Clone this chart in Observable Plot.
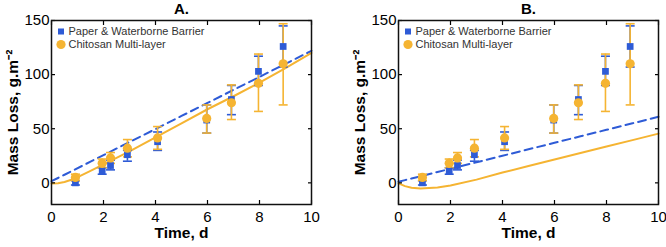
<!DOCTYPE html>
<html>
<head>
<meta charset="utf-8">
<script src="https://cdn.jsdelivr.net/npm/d3@7"></script>
<script src="https://cdn.jsdelivr.net/npm/@observablehq/plot@0.6"></script>
<style>
  html, body { margin: 0; padding: 0; background: #fff; }
  #chart { display: flex; width: 666px; height: 247px; overflow: hidden; }
  #chart svg { overflow: visible; flex: none; }
</style>
</head>
<body>
<div id="chart"></div>
<script>
// Measured mass loss over time for two coatings (means and error-bar limits)
const seriesNames = ["Paper & Waterborne Barrier", "Chitosan Multi-layer"];
const days = [0.92, 1.95, 2.27, 2.92, 4.08, 5.97, 6.92, 7.96, 8.91];

const paperMean = [0, 11, 16, 26, 38, 58, 77, 103, 126];
const paperLow  = [-2, 8, 12, 20, 30, 46, 63, 90, 107];
const paperHigh = [2, 14, 21, 30, 47, 72, 90, 117, 145];

const chitosanMean = [5, 18, 23, 32, 41.5, 59.5, 74, 92, 110];
const chitosanLow  = [2, 14, 18, 24, 31, 46, 58.5, 66, 72];
const chitosanHigh = [8, 22, 28, 40, 52, 72, 90.5, 119, 147];

// Model curves sampled on a common time grid
const fitDays = [0, 0.25, 0.5, 0.85, 1.5, 2, 3, 4, 5, 6, 7, 8, 9, 10];
const fitPaperA    = [1.5, 4.5, 7.5, 11.7, 19.6, 25.6, 37.7, 49.7, 61.8, 73.8, 85.9, 97.9, 110, 122];
const fitChitosanA = [-0.5, -0.3, 0.8, 3.5, 11, 17, 29, 42, 55, 68, 80, 92.5, 106, 120];
const fitPaperB    = [1, 2.5, 4, 6, 10, 13, 19, 25, 31, 37, 43, 49, 55, 61];
const fitChitosanB = [-0.5, -3, -4.5, -5.2, -4.3, -2.5, 3, 9.5, 15.5, 21.5, 27.5, 33.5, 39.5, 45.5];

const panelTitles = ["A.", "B."];
const xTicks = [0, 2, 4, 6, 8, 10];
const yTicks = [0, 50, 100, 150];
const xLabel = "Time, d";
const yLabel = "Mass Loss, g.m⁻²";

const blue = "#2e5bd6";
const orange = "#f5b432";
const font = "'Liberation Sans', Arial, Helvetica, sans-serif";

const paperRows = days.map((t, i) => ({t, v: paperMean[i], lo: paperLow[i], hi: paperHigh[i]}));
const chitosanRows = days.map((t, i) => ({t, v: chitosanMean[i], lo: chitosanLow[i], hi: chitosanHigh[i]}));

// horizontal cap drawn at each end of an error bar
const capSymbol = {
  draw(context, size) {
    const r = Math.sqrt(size / Math.PI);
    context.moveTo(-r, 0);
    context.lineTo(r, 0);
  }
};

function errorBars(rows, color) {
  return [
    Plot.ruleX(rows, {x: "t", y1: "lo", y2: "hi", stroke: color, strokeWidth: 1.6}),
    Plot.dot(rows, {x: "t", y: "lo", symbol: capSymbol, r: 4.5, stroke: color, strokeWidth: 1.6, fill: "none"}),
    Plot.dot(rows, {x: "t", y: "hi", symbol: capSymbol, r: 4.5, stroke: color, strokeWidth: 1.6, fill: "none"})
  ];
}

function panel({title, fitPaper, fitChitosan, marginLeft, marginRight}) {
  return Plot.plot({
    width: 333,
    height: 247,
    marginTop: 20,
    marginBottom: 43,
    marginLeft,
    marginRight,
    style: {fontFamily: font, fontSize: "15px", color: "#000", background: "#fff"},
    x: {domain: [0, 10], ticks: xTicks},
    y: {domain: [-20, 150], ticks: yTicks},
    marks: [
      // model curves
      Plot.lineY(fitPaper, {x: fitDays, stroke: blue, strokeWidth: 2, strokeDasharray: "8,5"}),
      Plot.lineY(fitChitosan, {x: fitDays, stroke: orange, strokeWidth: 2}),
      // measurements with error bars
      ...errorBars(paperRows, blue),
      ...errorBars(chitosanRows, orange),
      Plot.dot(paperRows, {x: "t", y: "v", symbol: "square", r: 3.8, fill: blue}),
      Plot.dot(chitosanRows, {x: "t", y: "v", symbol: "circle", r: 4.6, fill: orange}),
      // legend inside the frame
      Plot.dot([seriesNames[0]], {frameAnchor: "top-left", dx: 9.5, dy: 11, symbol: "square", r: 3.4, fill: blue}),
      Plot.dot([seriesNames[1]], {frameAnchor: "top-left", dx: 9.5, dy: 24, symbol: "circle", r: 4.6, fill: orange}),
      Plot.text([seriesNames[0]], {frameAnchor: "top-left", dx: 17, dy: 11, text: d => d, textAnchor: "start", lineAnchor: "middle", fontSize: 11, fill: "#333"}),
      Plot.text([seriesNames[1]], {frameAnchor: "top-left", dx: 17, dy: 24, text: d => d, textAnchor: "start", lineAnchor: "middle", fontSize: 11, fill: "#333"}),
      // inward ticks on all four sides
      Plot.axisX(xTicks, {anchor: "bottom", tickSize: -4, tickFormat: () => "", label: null, strokeWidth: 1.2}),
      Plot.axisX(xTicks, {anchor: "top", tickSize: -4, tickFormat: () => "", label: null, strokeWidth: 1.2}),
      Plot.axisY(yTicks, {anchor: "left", tickSize: -4, tickFormat: () => "", label: null, strokeWidth: 1.2}),
      Plot.axisY(yTicks, {anchor: "right", tickSize: -4, tickFormat: () => "", label: null, strokeWidth: 1.2}),
      // tick labels
      Plot.axisX(xTicks, {anchor: "bottom", tickSize: 0, tickPadding: 7, label: null, fontSize: 15}),
      Plot.axisY(yTicks, {anchor: "left", tickSize: 0, tickPadding: 2, label: null, fontSize: 15}),
      Plot.frame({stroke: "#111", strokeWidth: 1.5}),
      // titles
      Plot.text([title], {frameAnchor: "top", dy: -11, text: d => d, fontWeight: "bold", fontSize: 15, textAnchor: "middle", lineAnchor: "middle"}),
      Plot.text([xLabel], {frameAnchor: "bottom", dy: 29, text: d => d, fontWeight: "bold", fontSize: 15.5, textAnchor: "middle", lineAnchor: "middle"}),
      Plot.text([yLabel], {frameAnchor: "left", dx: -38, rotate: -90, text: d => d, fontWeight: "bold", fontSize: 15.5, textAnchor: "middle", lineAnchor: "middle"})
    ]
  });
}

const chart = document.getElementById("chart");
chart.append(panel({title: panelTitles[0], fitPaper: fitPaperA, fitChitosan: fitChitosanA, marginLeft: 51, marginRight: 22}));
chart.append(panel({title: panelTitles[1], fitPaper: fitPaperB, fitChitosan: fitChitosanB, marginLeft: 65, marginRight: 8}));
</script>
</body>
</html>
